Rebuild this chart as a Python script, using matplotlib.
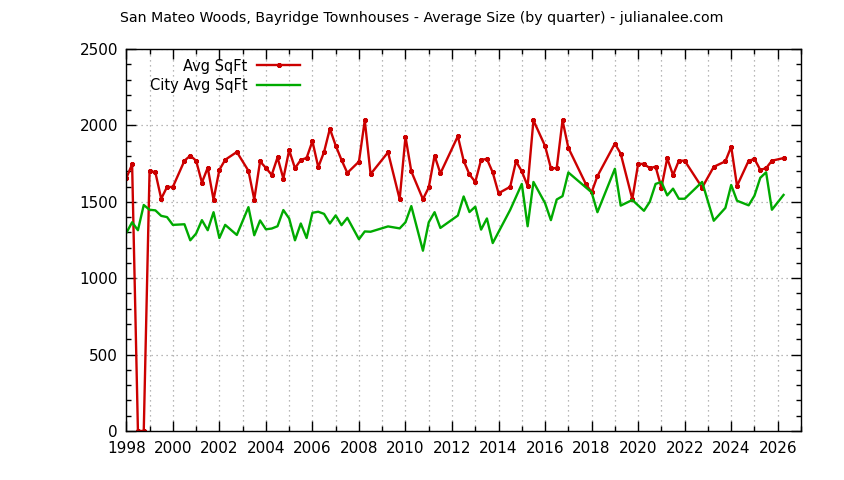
import matplotlib
matplotlib.use("Agg")
import matplotlib.pyplot as plt
from matplotlib.ticker import MultipleLocator

# quarterly averages
red_x = [1998.00, 1998.25, 1998.50, 1998.75, 1999.00, 1999.25, 1999.50, 1999.75,
         2000.00, 2000.50, 2000.75, 2001.00, 2001.25, 2001.50, 2001.75, 2002.00,
         2002.25, 2002.75, 2003.25, 2003.50, 2003.75, 2004.00, 2004.25, 2004.50,
         2004.75, 2005.00, 2005.25, 2005.50, 2005.75, 2006.00, 2006.25, 2006.50,
         2006.75, 2007.00, 2007.25, 2007.50, 2008.00, 2008.25, 2008.50, 2009.25,
         2009.75, 2010.00, 2010.25, 2010.75, 2011.00, 2011.25, 2011.50, 2012.25,
         2012.50, 2012.75, 2013.00, 2013.25, 2013.50, 2013.75, 2014.00, 2014.50,
         2014.75, 2015.00, 2015.25, 2015.50, 2016.00, 2016.25, 2016.50, 2016.75,
         2017.00, 2017.75, 2018.00, 2018.25, 2019.00, 2019.25, 2019.75, 2020.00,
         2020.25, 2020.50, 2020.75, 2021.00, 2021.25, 2021.50, 2021.75, 2022.00,
         2022.75, 2023.25, 2023.75, 2024.00, 2024.25, 2024.75, 2025.00, 2025.25,
         2025.50, 2025.75, 2026.25]
avg_sqft = [1655, 1745, 0, 0, 1703, 1692, 1520, 1597,
            1597, 1769, 1802, 1769, 1626, 1723, 1514, 1709,
            1775, 1826, 1703, 1515, 1764, 1722, 1676, 1790,
            1652, 1838, 1720, 1774, 1787, 1897, 1727, 1826,
            1978, 1868, 1774, 1689, 1763, 2033, 1681, 1824,
            1517, 1926, 1699, 1517, 1594, 1802, 1686, 1929,
            1769, 1679, 1630, 1775, 1780, 1692, 1556, 1598,
            1765, 1699, 1604, 2033, 1865, 1720, 1720, 2033,
            1853, 1617, 1562, 1668, 1881, 1815, 1517, 1748,
            1748, 1720, 1730, 1593, 1785, 1675, 1769, 1769,
            1593, 1729, 1765, 1861, 1604, 1769, 1780, 1709,
            1720, 1769, 1786]

green_x = [1998.00, 1998.25, 1998.50, 1998.75, 1999.00, 1999.25, 1999.50, 1999.75,
           2000.00, 2000.50, 2000.75, 2001.00, 2001.25, 2001.50, 2001.75, 2002.00,
           2002.25, 2002.75, 2003.25, 2003.50, 2003.75, 2004.00, 2004.25, 2004.50,
           2004.75, 2005.00, 2005.25, 2005.50, 2005.75, 2006.00, 2006.25, 2006.50,
           2006.75, 2007.00, 2007.25, 2007.50, 2008.00, 2008.25, 2008.50, 2009.25,
           2009.75, 2010.00, 2010.25, 2010.75, 2011.00, 2011.25, 2011.50, 2012.25,
           2012.50, 2012.75, 2013.00, 2013.25, 2013.50, 2013.75, 2014.50, 2015.00,
           2015.25, 2015.50, 2016.00, 2016.25, 2016.50, 2016.75, 2017.00, 2018.00,
           2018.25, 2019.00, 2019.25, 2019.75, 2020.25, 2020.50, 2020.75, 2021.00,
           2021.25, 2021.50, 2021.75, 2022.00, 2022.75, 2023.25, 2023.75, 2024.00,
           2024.25, 2024.75, 2025.00, 2025.25, 2025.50, 2025.75, 2026.25]
city_sqft = [1296, 1366, 1314, 1479, 1448, 1444, 1408, 1400,
             1349, 1353, 1248, 1292, 1380, 1314, 1432, 1263,
             1349, 1283, 1465, 1281, 1378, 1320, 1325, 1340,
             1446, 1391, 1248, 1358, 1263, 1428, 1435, 1421,
             1358, 1411, 1347, 1395, 1255, 1306, 1304, 1339,
             1326, 1366, 1472, 1180, 1366, 1432, 1329, 1410,
             1535, 1433, 1468, 1318, 1391, 1230, 1447, 1617,
             1340, 1630, 1491, 1380, 1515, 1537, 1692, 1562,
             1432, 1716, 1475, 1512, 1441, 1500, 1617, 1630,
             1542, 1586, 1520, 1520, 1630, 1376, 1460, 1610,
             1507, 1477, 1540, 1657, 1693, 1448, 1545]

title = "San Mateo Woods, Bayridge Townhouses - Average Size (by quarter) - julianalee.com"

fig = plt.figure(figsize=(8.44, 4.8), dpi=100)
ax = fig.add_axes([126.3/844, 49/480, (801-126.3)/844, (431-49)/480])

ax.plot(red_x, avg_sqft, color="#cc0000", lw=1.7, marker=(8, 2, 0), ms=3.5, mew=1.0,
        label="Avg SqFt")
ax.plot(green_x, city_sqft, color="#00aa00", lw=1.7, label="City Avg SqFt")

ax.set_xlim(1998, 2027)
ax.set_ylim(0, 2500)
ax.xaxis.set_major_locator(MultipleLocator(2))
ax.xaxis.set_minor_locator(MultipleLocator(1))
ax.yaxis.set_major_locator(MultipleLocator(500))
ax.yaxis.set_minor_locator(MultipleLocator(100))

ax.tick_params(which="both", direction="in", top=True, right=True, labelsize=11, width=1)
ax.tick_params(which="major", length=7)
ax.tick_params(which="minor", length=3.5)
ax.tick_params(axis="x", pad=7)
ax.tick_params(axis="y", pad=6)

ax.grid(True, axis="x", which="both", color="#a0a0a0", ls=(0, (1, 3)), lw=0.9)
ax.grid(True, axis="y", which="major", color="#a0a0a0", ls=(0, (1, 3)), lw=0.9)
ax.set_axisbelow(True)
for s in ax.spines.values():
    s.set_linewidth(1)

ax.legend(loc="upper right", bbox_to_anchor=(0.257, 0.975), frameon=False,
          markerfirst=False, fontsize=10.5, handlelength=2.9, handletextpad=0.7,
          borderpad=0, borderaxespad=0, labelspacing=0.3)

fig.text(0.5, 1 - 18/480, title, ha="center", va="center", fontsize=10.2)

fig.savefig("out.png", dpi=100)
